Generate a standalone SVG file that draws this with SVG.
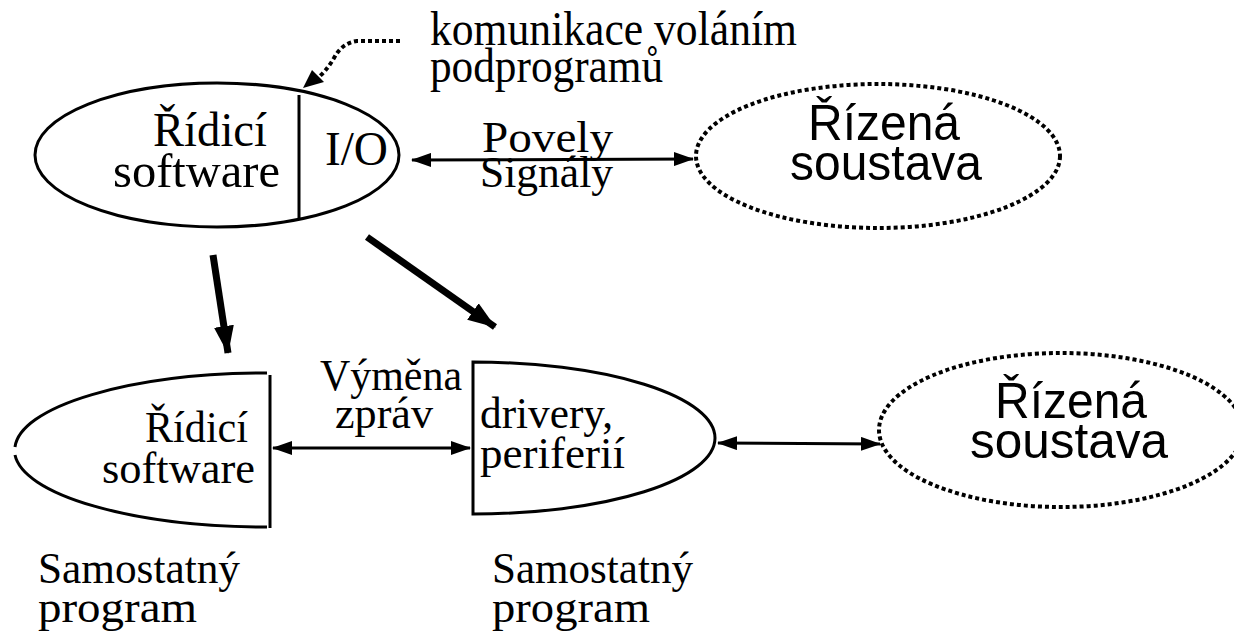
<svg xmlns="http://www.w3.org/2000/svg" width="1234" height="634" viewBox="0 0 1234 634">
<defs>
<style>
.ln{fill:none;stroke:#000;stroke-width:3}
.dot{fill:none;stroke:#000;stroke-width:4;stroke-dasharray:4 3}
.serif{font-family:"Liberation Serif","Times New Roman",serif;font-size:48px;fill:#000}
.mid{font-size:45px}
.sans{font-family:"Liberation Sans",Arial,sans-serif;font-size:50px;fill:#000}
.thick{fill:none;stroke:#000;stroke-width:7}
</style>
<marker id="ah" markerUnits="userSpaceOnUse" markerWidth="20" markerHeight="14" refX="19" refY="7" orient="auto-start-reverse">
<path d="M0,0 L20,7 L0,14 Z" fill="#000"/>
</marker>
<marker id="ahb" markerUnits="userSpaceOnUse" markerWidth="28" markerHeight="20" refX="27" refY="10" orient="auto">
<path d="M0,0 L28,10 L0,20 Z" fill="#000"/>
</marker>
</defs>
<rect width="1234" height="634" fill="#fff"/>

<g id="ridici-top">
<ellipse class="ln" cx="217" cy="155" rx="182" ry="72"/>
<line class="ln" x1="299" y1="95" x2="299" y2="219"/>
<text class="serif" x="153" y="146" textLength="114" lengthAdjust="spacingAndGlyphs">Řídicí</text>
<text class="serif" x="113" y="187" textLength="167" lengthAdjust="spacingAndGlyphs">software</text>
<text class="serif" x="325" y="165" textLength="63" lengthAdjust="spacingAndGlyphs">I/O</text>
</g>

<g id="note">
<text class="serif" x="430" y="45" textLength="367" lengthAdjust="spacingAndGlyphs">komunikace voláním</text>
<text class="serif" x="430" y="82" textLength="233" lengthAdjust="spacingAndGlyphs">podprogramů</text>
</g>

<g id="soustava-top">
<ellipse class="dot" cx="878" cy="156" rx="182" ry="72"/>
<text class="sans" x="808" y="140" textLength="152" lengthAdjust="spacingAndGlyphs">Řízená</text>
<text class="sans" x="790" y="180" textLength="192" lengthAdjust="spacingAndGlyphs">soustava</text>
</g>

<g id="ridici-bottom">
<path class="ln" d="M267 373 A253 77 0 0 0 15 447"/>
<path class="ln" d="M15 455 A253 77 0 0 0 267 527"/>
<line class="ln" x1="270" y1="375" x2="270" y2="528"/>
<text class="serif mid" x="145" y="442" textLength="103" lengthAdjust="spacingAndGlyphs">Řídicí</text>
<text class="serif mid" x="102" y="483" textLength="153" lengthAdjust="spacingAndGlyphs">software</text>
</g>

<g id="drivery">
<path class="ln" d="M473 362 A242 76 0 0 1 715 438 A242 76 0 0 1 473 514 Z"/>
<text class="serif mid" x="480" y="428" textLength="133" lengthAdjust="spacingAndGlyphs">drivery,</text>
<text class="serif mid" x="480" y="468" textLength="145" lengthAdjust="spacingAndGlyphs">periferií</text>
</g>

<g id="soustava-bottom">
<ellipse class="dot" cx="1061" cy="430" rx="182" ry="77"/>
<text class="sans" x="995" y="418" textLength="152" lengthAdjust="spacingAndGlyphs">Řízená</text>
<text class="sans" x="970" y="458" textLength="198" lengthAdjust="spacingAndGlyphs">soustava</text>
</g>

<g id="label-vymena">
<text class="serif mid" x="320" y="390" textLength="142" lengthAdjust="spacingAndGlyphs">Výměna</text>
<text class="serif mid" x="335" y="428" textLength="98" lengthAdjust="spacingAndGlyphs">zpráv</text>
</g>

<g id="label-povely">
<text class="serif mid" x="482" y="152" textLength="131" lengthAdjust="spacingAndGlyphs">Povely</text>
<text class="serif mid" x="480" y="187" textLength="133" lengthAdjust="spacingAndGlyphs">Signály</text>
</g>

<g id="samostatny-1">
<text class="serif mid" x="38" y="583" textLength="202" lengthAdjust="spacingAndGlyphs">Samostatný</text>
<text class="serif mid" x="38" y="622" textLength="159" lengthAdjust="spacingAndGlyphs">program</text>
</g>
<g id="samostatny-2">
<text class="serif mid" x="492" y="583" textLength="201" lengthAdjust="spacingAndGlyphs">Samostatný</text>
<text class="serif mid" x="492" y="622" textLength="158" lengthAdjust="spacingAndGlyphs">program</text>
</g>

<g id="connectors">
<path d="M400 41 L357 41 Q342 43 334 58 Q326 72 315 80" fill="none" stroke="#000" stroke-width="4" stroke-dasharray="4 3"/>
<path d="M303 88 L312 70 L324 82 Z" fill="#000"/>
<line class="ln" x1="412" y1="160" x2="693" y2="159" marker-start="url(#ah)" marker-end="url(#ah)"/>
<line class="ln" x1="273" y1="448" x2="470" y2="448" marker-start="url(#ah)" marker-end="url(#ah)"/>
<line class="ln" x1="718" y1="443" x2="880" y2="444" marker-start="url(#ah)" marker-end="url(#ah)"/>
<line class="thick" x1="213" y1="255" x2="228" y2="353" marker-end="url(#ahb)"/>
<line class="thick" x1="367" y1="237" x2="495" y2="327" marker-end="url(#ahb)"/>
</g>
</svg>
